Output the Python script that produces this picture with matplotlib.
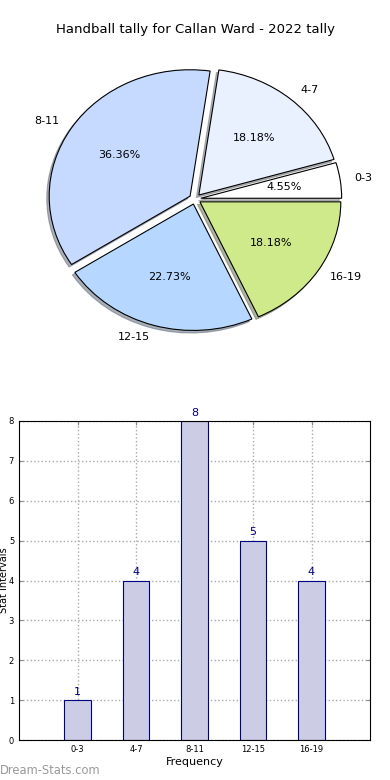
import matplotlib
matplotlib.use("Agg")
import matplotlib.pyplot as plt
import numpy as np

# data
labels = ['0-3', '4-7', '8-11', '12-15', '16-19']
counts = [1, 4, 8, 5, 4]
pie_colors = ['#ffffff', '#e9f1ff', '#c6daff', '#b6d7ff', '#cfea8b']
title = 'Handball tally for Callan Ward - 2022 tally'

fig = plt.figure(figsize=(3.9, 7.8), dpi=100)

# pie (stretched ellipse like the original)
ax1 = fig.add_axes([12.5 / 390, 417.25 / 780, 365 / 390, 327.5 / 780])
wedges, texts, autotexts = ax1.pie(
    counts, labels=labels, colors=pie_colors, explode=[0.04] * 5,
    autopct='%1.2f%%', startangle=0, labeldistance=1.1, radius=0.965,
    shadow={'ox': -0.012, 'oy': -0.014, 'shade': 0.55},
    pctdistance=0.6, wedgeprops={'linewidth': 0.8, 'edgecolor': 'black'},
    textprops={'fontsize': 8})
ax1.set_aspect('auto')
ax1.set_xlim(-1.25, 1.25)
ax1.set_ylim(-1.25, 1.25)
ax1.axis('off')

fig.text(0.5, 1 - 30 / 780, title, ha='center', va='center', fontsize=9.5)

# bar chart
ax2 = fig.add_axes([19 / 390, 40 / 780, 351 / 390, 319 / 780])
x = np.arange(len(labels))
bars = ax2.bar(x, counts, width=0.45, color='#ccccE5', edgecolor='#000080',
               linewidth=0.8, zorder=2)
for xi, c in zip(x, counts):
    ax2.text(xi, c + 0.08, str(c), ha='center', va='bottom', fontsize=8,
             color='#000080')
ax2.set_xlim(-1, 5)
ax2.set_ylim(0, 8)
ax2.set_xticks(x)
ax2.set_xticklabels(labels)
ax2.set_yticks(range(0, 9))
ax2.tick_params(labelsize=6, direction='in', top=True, right=True,
                length=3, color='#888888')
ax2.grid(True, linestyle=':', color='#aaaaaa', linewidth=1, zorder=0)
ax2.set_axisbelow(True)
ax2.set_xlabel('Frequency', fontsize=8, labelpad=2)
ax2.set_ylabel('Stat Intervals', fontsize=7, labelpad=0)
ax2.yaxis.set_label_coords(-9.5 / 351, 0.5)

fig.text(0.0, 1 - 771 / 780, 'Dream-Stats.com', ha='left', va='center',
         fontsize=8.3, color='#999999')

fig.savefig('out.png', dpi=100)
